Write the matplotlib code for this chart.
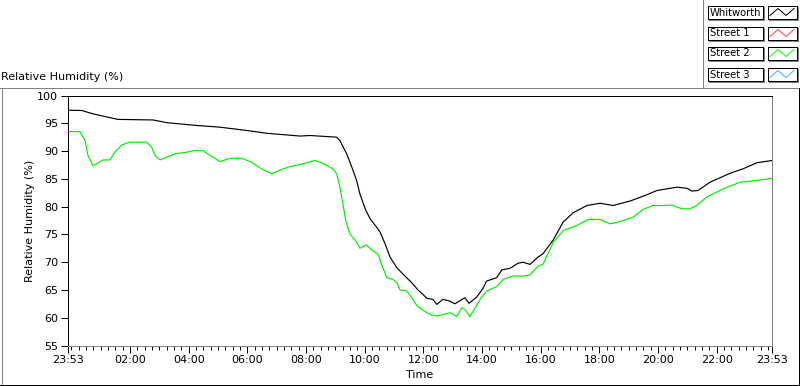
import matplotlib
matplotlib.use("Agg")
import matplotlib.pyplot as plt
from matplotlib.lines import Line2D
import numpy as np

# ---- data (hours after 23:53, relative humidity %) ----
hours_whitworth = [0.00, 0.47, 0.85, 1.70, 2.90, 3.38, 4.40, 5.18, 6.10, 6.78, 7.91, 8.25,
                   9.16, 9.27, 9.50, 9.67, 9.84, 9.95, 10.13, 10.30, 10.52, 10.64, 10.81,
                   10.98, 11.21, 11.43, 11.66, 11.77, 11.93, 12.10, 12.23, 12.44, 12.57,
                   12.78, 13.02, 13.19, 13.53, 13.67, 13.93, 14.15, 14.27, 14.61, 14.79,
                   15.07, 15.34, 15.51, 15.75, 16.02, 16.19, 16.53, 16.88, 17.22, 17.69,
                   18.14, 18.58, 19.16, 19.67, 20.08, 20.76, 21.10, 21.27, 21.48, 21.89,
                   22.57, 23.01, 23.49, 24.00]
rh_whitworth = [97.35, 97.3, 96.7, 95.7, 95.6, 95.1, 94.6, 94.3, 93.7, 93.2, 92.7, 92.8,
                92.5, 91.9, 89.5, 87.2, 84.7, 82.3, 79.6, 77.8, 76.3, 75.4, 73.3,
                70.9, 69.0, 67.8, 66.6, 66.0, 65.0, 64.2, 63.5, 63.3, 62.4,
                63.3, 63.0, 62.5, 63.6, 62.6, 63.7, 65.3, 66.6, 67.2, 68.6,
                68.9, 69.8, 70.0, 69.6, 70.9, 71.5, 73.9, 77.2, 78.9, 80.2,
                80.6, 80.2, 81.0, 82.0, 82.9, 83.5, 83.3, 82.8, 82.9, 84.4,
                86.0, 86.8, 87.9, 88.3]

hours_street2 = [0.00, 0.41, 0.58, 0.68, 0.85, 0.98, 1.19, 1.43, 1.60, 1.83, 2.11, 2.68,
                 2.85, 2.97, 3.14, 3.36, 3.65, 4.05, 4.33, 4.60, 4.77, 5.18, 5.52, 5.92,
                 6.26, 6.60, 6.94, 7.23, 7.57, 8.01, 8.42, 8.69, 9.03, 9.16, 9.27, 9.39,
                 9.48, 9.61, 9.84, 9.95, 10.18, 10.35, 10.58, 10.69, 10.87, 11.09, 11.21,
                 11.32, 11.55, 11.72, 11.89, 12.11, 12.34, 12.57, 12.79, 13.02, 13.25,
                 13.43, 13.53, 13.70, 13.88, 14.05, 14.27, 14.61, 14.84, 15.18, 15.52,
                 15.75, 16.03, 16.19, 16.55, 16.89, 17.34, 17.74, 18.14, 18.48, 18.82,
                 19.27, 19.61, 19.95, 20.30, 20.58, 20.92, 21.20, 21.43, 21.77, 22.34,
                 22.91, 23.48, 24.00]
rh_street2 = [93.5, 93.5, 91.9, 89.2, 87.4, 87.7, 88.4, 88.4, 89.8, 91.1, 91.6, 91.6,
              90.7, 89.2, 88.4, 88.9, 89.5, 89.8, 90.1, 90.1, 89.5, 88.1, 88.7, 88.7,
              88.0, 86.8, 85.9, 86.6, 87.2, 87.7, 88.3, 87.8, 86.8, 85.9, 83.5, 79.9,
              77.2, 75.1, 73.6, 72.5, 73.1, 72.2, 71.4, 69.6, 67.2, 66.9, 66.3,
              65.0, 64.8, 63.6, 62.2, 61.3, 60.6, 60.3, 60.6, 60.9, 60.2,
              61.8, 61.5, 60.2, 61.8, 63.3, 64.8, 65.6, 66.9, 67.5, 67.5,
              67.7, 69.3, 69.6, 73.6, 75.7, 76.6, 77.7, 77.7, 76.9, 77.3,
              78.1, 79.5, 80.2, 80.2, 80.3, 79.6, 79.6, 80.2, 81.7, 83.2,
              84.4, 84.7, 85.1]

x_tick_hours = [0, 2.1167, 4.1167, 6.1167, 8.1167, 10.1167, 12.1167, 14.1167,
                16.1167, 18.1167, 20.1167, 22.1167, 24]
x_tick_labels = ["23:53", "02:00", "04:00", "06:00", "08:00", "10:00", "12:00",
                 "14:00", "16:00", "18:00", "20:00", "22:00", "23:53"]
y_ticks = [55, 60, 65, 70, 75, 80, 85, 90, 95, 100]
legend_names = ["Whitworth", "Street 1", "Street 2", "Street 3"]
legend_colors = ["#000000", "#ff4040", "#00ff00", "#40b0ff"]

W, H = 800, 386
PX = 0.72  # one pixel in points
fig = plt.figure(figsize=(W / 100, H / 100), dpi=100)
fig.patch.set_facecolor("white")

# overlay in pixel coordinates for frame / legend decorations
ov = fig.add_axes([0, 0, 1, 1], zorder=-1)
ov.set_xlim(0, W)
ov.set_ylim(H, 0)
ov.axis("off")

gray = "#808080"
def hline(xs, ys, c):
    ov.add_line(Line2D(xs, ys, color=c, lw=PX, antialiased=False))

# outer panel frame
hline([0, 800], [87.5, 87.5], gray)
hline([1.5, 1.5], [87.5, 385], gray)
hline([0, 799], [384.5, 384.5], "black")
hline([798.5, 798.5], [87.5, 385], "black")
hline([702.5, 702.5], [0, 87.5], gray)
ov.text(1, 77, "Relative Humidity (%)", fontsize=8, ha="left", va="center")

# legend
for i, (name, col) in enumerate(zip(legend_names, legend_colors)):
    top = round(5 + i * 20.7) + 0.5
    h = 13
    hline([707.5, 762.5, 762.5, 707.5, 707.5], [top, top, top + h, top + h, top], "black")
    hline([708.5, 763.5, 763.5], [top + h + 1, top + h + 1, top + 1], gray)
    ov.text(709.5, top + h / 2 + 0.5, name, fontsize=7.2, ha="left", va="center")
    hline([767.5, 796.5, 796.5, 767.5, 767.5], [top, top, top + h, top + h, top], "black")
    hline([768.5, 797.5, 797.5], [top + h + 1, top + h + 1, top + 1], gray)
    ov.add_line(Line2D([770, 778, 786, 794], [top + h - 3, top + 3, top + h - 3, top + 3],
                       color=col, lw=PX))

# main plot
ax = fig.add_axes([68 / W, (H - 345.5) / H, 704 / W, 250 / H])
ax.plot(hours_whitworth, rh_whitworth, color="black", lw=0.85)
ax.plot(hours_street2, rh_street2, color="#00ee00", lw=0.85)
ax.set_xlim(0, 24)
ax.set_ylim(55, 100)
ax.set_yticks(y_ticks)
ax.set_xticks(x_tick_hours)
ax.set_xticklabels(x_tick_labels)
minor = np.arange(0.1167, 24, 0.25)
ax.set_xticks(minor, minor=True)
for s in ["left", "top"]:
    ax.spines[s].set_color("black")
for s in ["right", "bottom"]:
    ax.spines[s].set_color(gray)
for s in ax.spines.values():
    s.set_linewidth(PX)
ax.tick_params(axis="both", which="major", direction="out", length=5, width=PX,
               labelsize=8, pad=2, color="black")
ax.tick_params(axis="x", which="minor", direction="out", length=3, width=PX, color="black")
ax.set_xlabel("Time", fontsize=8)
ax.xaxis.set_label_coords(0.5, -0.10)
ax.set_ylabel("Relative Humidity (%)", fontsize=8)
ax.yaxis.set_label_coords(-0.047, 0.5)

fig.savefig("out.png", dpi=100)
